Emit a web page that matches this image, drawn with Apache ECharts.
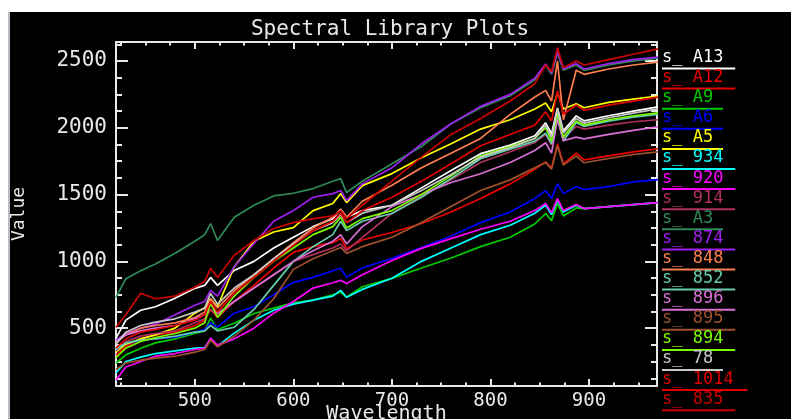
<!doctype html>
<html lang="en">
<head>
    <meta charset="UTF-8">
    <title>Spectral Library Plots</title>
    <style>
        html, body { margin: 0; padding: 0; background: #fff; }
        #bg {
            position: absolute; left: 8px; top: 12px;
            width: 783px; height: 407px;
            background: #000; border-left: 2px solid #b8bcc4;
        }
        #chart { position: absolute; left: 0; top: 0; width: 791px; height: 419px; }
    </style>
</head>
<body>
    <div id="bg"></div>
    <div id="chart"></div>

    <script src="https://cdn.jsdelivr.net/npm/echarts@6/dist/echarts.min.js"></script>
    <script>
        var wavelength = [420, 430, 445, 460, 480, 500, 510, 516, 523, 540, 560, 580, 600, 620, 640, 648, 654, 670, 700, 730, 760, 790, 820, 845, 856, 862, 868, 874, 887, 895, 920, 945, 970];

        var s_A13  = [425, 560, 634, 660, 724, 798, 820, 880, 820, 932, 1000, 1100, 1180, 1260, 1320, 1390, 1330, 1380, 1420, 1550, 1680, 1806, 1870, 1940, 2037, 1955, 2149, 1977, 2089, 2052, 2090, 2125, 2156];
        var s_A12  = [300, 360, 420, 450, 470, 520, 560, 640, 580, 700, 820, 950, 1067, 1110, 1140, 1171, 1097, 1160, 1216, 1283, 1370, 1470, 1580, 1690, 1745, 1700, 1880, 1730, 1810, 1760, 1790, 1820, 1843];
        var s_A9   = [239, 300, 350, 390, 420, 460, 480, 575, 490, 537, 610, 650, 690, 710, 750, 769, 731, 810, 873, 950, 1025, 1110, 1180, 1280, 1358, 1305, 1433, 1340, 1400, 1395, 1410, 1425, 1440];
        var s_A6   = [340, 380, 410, 420, 433, 470, 490, 540, 507, 612, 660, 750, 843, 880, 930, 948, 880, 950, 1022, 1104, 1190, 1290, 1370, 1470, 1530, 1470, 1582, 1507, 1560, 1537, 1560, 1595, 1612];
        var s_A5   = [321, 380, 420, 450, 500, 612, 650, 720, 660, 960, 1150, 1220, 1253, 1380, 1433, 1507, 1440, 1567, 1657, 1776, 1880, 1990, 2060, 2141, 2186, 2120, 2260, 2140, 2180, 2150, 2190, 2215, 2238];
        var s_934  = [164, 250, 283, 310, 330, 350, 355, 420, 365, 463, 560, 634, 680, 710, 740, 783, 731, 790, 873, 1000, 1100, 1200, 1270, 1360, 1420, 1350, 1460, 1370, 1420, 1395, 1410, 1425, 1440];
        var s_920  = [112, 209, 250, 290, 310, 340, 350, 425, 373, 420, 500, 612, 700, 800, 840, 858, 835, 900, 1007, 1097, 1170, 1240, 1300, 1380, 1433, 1365, 1470, 1380, 1425, 1395, 1410, 1425, 1440];
        var s_914  = [330, 400, 440, 460, 480, 540, 570, 640, 590, 700, 800, 900, 1000, 1050, 1100, 1130, 1080, 1180, 1360, 1490, 1610, 1740, 1820, 1890, 1950, 1870, 2090, 1920, 2010, 1990, 2020, 2045, 2060];
        var s_A3   = [731, 870, 930, 980, 1060, 1150, 1200, 1283, 1156, 1330, 1420, 1490, 1510, 1545, 1600, 1619, 1515, 1600, 1731, 1860, 2030, 2150, 2240, 2360, 2470, 2400, 2560, 2430, 2470, 2430, 2470, 2500, 2522];
        var s_874  = [410, 460, 500, 530, 600, 672, 700, 783, 740, 960, 1134, 1300, 1380, 1480, 1507, 1530, 1455, 1580, 1700, 1880, 2030, 2160, 2250, 2370, 2477, 2410, 2574, 2440, 2480, 2440, 2480, 2510, 2529];
        var s_848  = [390, 450, 500, 520, 540, 580, 620, 720, 650, 780, 900, 1020, 1140, 1250, 1330, 1390, 1330, 1450, 1570, 1700, 1810, 1920, 2100, 2230, 2280, 2200, 2500, 2060, 2430, 2400, 2440, 2470, 2492];
        var s_852  = [340, 390, 410, 420, 440, 470, 480, 520, 480, 507, 640, 820, 1000, 1110, 1200, 1300, 1230, 1300, 1358, 1480, 1620, 1768, 1840, 1900, 1960, 1880, 2070, 1900, 2040, 2010, 2050, 2080, 2100];
        var s_896  = [400, 450, 480, 500, 520, 570, 600, 680, 610, 700, 800, 900, 1000, 1080, 1150, 1200, 1130, 1260, 1410, 1500, 1590, 1656, 1740, 1830, 1888, 1810, 2067, 1903, 1930, 1917, 1950, 1980, 2007];
        var s_895  = [190, 240, 260, 275, 290, 320, 340, 410, 360, 440, 560, 720, 940, 1020, 1080, 1104, 1060, 1110, 1180, 1290, 1410, 1530, 1610, 1700, 1740, 1690, 1865, 1720, 1790, 1738, 1770, 1800, 1820];
        var s_894  = [280, 350, 400, 430, 460, 500, 540, 690, 580, 740, 880, 1000, 1100, 1200, 1260, 1330, 1250, 1320, 1380, 1500, 1640, 1790, 1860, 1920, 2000, 1900, 2110, 1930, 2050, 2020, 2060, 2090, 2111];
        var s_78   = [380, 470, 520, 545, 570, 620, 650, 760, 680, 800, 900, 1020, 1130, 1230, 1290, 1350, 1290, 1360, 1420, 1530, 1650, 1780, 1850, 1920, 2020, 1930, 2140, 1960, 2070, 2035, 2075, 2110, 2142];
        var s_1014 = [350, 420, 470, 490, 520, 560, 600, 700, 620, 760, 880, 1000, 1120, 1230, 1300, 1360, 1290, 1380, 1480, 1600, 1730, 1865, 1950, 2020, 2120, 2050, 2275, 2100, 2170, 2130, 2170, 2200, 2230];
        var s_835  = [507, 600, 761, 720, 740, 806, 850, 948, 880, 1045, 1156, 1246, 1290, 1320, 1340, 1380, 1320, 1420, 1600, 1780, 1950, 2070, 2200, 2330, 2470, 2420, 2600, 2450, 2500, 2470, 2510, 2550, 2590];

        var names  = ['s_ A13', 's_ A12', 's_ A9', 's_ A6', 's_ A5', 's_ 934', 's_ 920', 's_ 914', 's_ A3',
                      's_ 874', 's_ 848', 's_ 852', 's_ 896', 's_ 895', 's_ 894', 's_ 78', 's_ 1014', 's_ 835'];
        var values = [s_A13, s_A12, s_A9, s_A6, s_A5, s_934, s_920, s_914, s_A3,
                      s_874, s_848, s_852, s_896, s_895, s_894, s_78, s_1014, s_835];
        var colors = ['#ffffff', '#ee0000', '#00cc00', '#0000ff', '#ffff00', '#00ffff', '#ff00ff', '#b03060', '#2e8b57',
                      '#a020f0', '#ff7f50', '#66cdaa', '#da70d6', '#a0522d', '#7cfc00', '#c8c8c8', '#e00000', '#cc0000'];

        var font = 'DejaVu Sans Mono';
        var fg = '#e8e8e8';

        // legend label + coloured underline (second rich line sits at the bottom of its row)
        var rich = {};
        names.forEach(function (n, i) {
            rich['t' + i] = { color: colors[i], fontFamily: font, fontSize: 17, lineHeight: 16 };
            rich['u' + i] = { backgroundColor: colors[i], width: n.length * 12.2, height: 2, lineHeight: 4, fontSize: 1, verticalAlign: 'bottom' };
        });

        var series = names.map(function (n, i) {
            return {
                name: n,
                type: 'line',
                showSymbol: false,
                symbol: 'none',
                color: colors[i],
                lineStyle: { width: 1.7, color: colors[i] },
                data: wavelength.map(function (w, k) { return [w, values[i][k]]; })
            };
        });

        var axisLine = { show: true, lineStyle: { color: fg, width: 2 } };

        var myChart = echarts.init(document.getElementById('chart'));
        var option = {
            backgroundColor: 'transparent',
            animation: false,
            title: {
                text: 'Spectral Library Plots',
                left: 385,
                top: 14,
                textAlign: 'center',
                textStyle: { color: fg, fontFamily: font, fontSize: 21, fontWeight: 'normal' }
            },
            legend: {
                orient: 'vertical',
                left: 652,
                top: 44,
                height: 420,
                icon: 'none',
                itemWidth: 0,
                itemHeight: 10,
                itemGap: -0.4,
                selectedMode: false,
                data: names,
                formatter: function (n) {
                    var i = names.indexOf(n);
                    return '{t' + i + '|' + n + '}\n{u' + i + '| }';
                },
                textStyle: { rich: rich }
            },
            grid: { left: 116, right: 134, top: 42, bottom: 33, outerBoundsMode: 'none', containLabel: false },
            xAxis: [{
                type: 'value',
                min: 420, max: 969,
                splitNumber: 5,
                name: 'Wavelength',
                nameLocation: 'middle',
                nameGap: 18,
                nameMoveOverlap: false,
                nameTextStyle: { color: fg, fontFamily: font, fontSize: 20 },
                axisLine: axisLine,
                axisTick: { inside: true, length: 7, lineStyle: { color: fg, width: 2 } },
                minorTick: { show: true, splitNumber: 4, length: 3.5, lineStyle: { color: fg, width: 2 } },
                axisLabel: { color: fg, fontFamily: font, fontSize: 19, margin: 6, showMinLabel: false, showMaxLabel: false },
                splitLine: { show: false }
            }, {
                type: 'value',
                position: 'top',
                min: 420, max: 969,
                splitNumber: 5,
                axisLine: axisLine,
                axisTick: { inside: true, length: 7, lineStyle: { color: fg, width: 2 } },
                minorTick: { show: true, splitNumber: 4, length: 3.5, lineStyle: { color: fg, width: 2 } },
                axisLabel: { show: false },
                splitLine: { show: false }
            }],
            yAxis: [{
                type: 'value',
                min: 67, max: 2642,
                splitNumber: 5,
                name: 'Value',
                nameLocation: 'middle',
                nameGap: 88,
                nameMoveOverlap: false,
                nameTextStyle: { color: fg, fontFamily: font, fontSize: 18 },
                axisLine: axisLine,
                axisTick: { inside: true, length: 12, lineStyle: { color: fg, width: 2 } },
                minorTick: { show: true, splitNumber: 4, length: 6, lineStyle: { color: fg, width: 2 } },
                axisLabel: {
                    color: fg, fontFamily: font, fontSize: 21, margin: 9,
                    showMinLabel: false, showMaxLabel: false,
                    formatter: function (v) { return String(v); }
                },
                splitLine: { show: false }
            }, {
                type: 'value',
                position: 'right',
                min: 67, max: 2642,
                splitNumber: 5,
                axisLine: axisLine,
                axisTick: { inside: true, length: 12, lineStyle: { color: fg, width: 2 } },
                minorTick: { show: true, splitNumber: 4, length: 6, lineStyle: { color: fg, width: 2 } },
                axisLabel: { show: false },
                splitLine: { show: false }
            }],
            series: series
        };

        myChart.setOption(option);
    </script>
</body>
</html>
